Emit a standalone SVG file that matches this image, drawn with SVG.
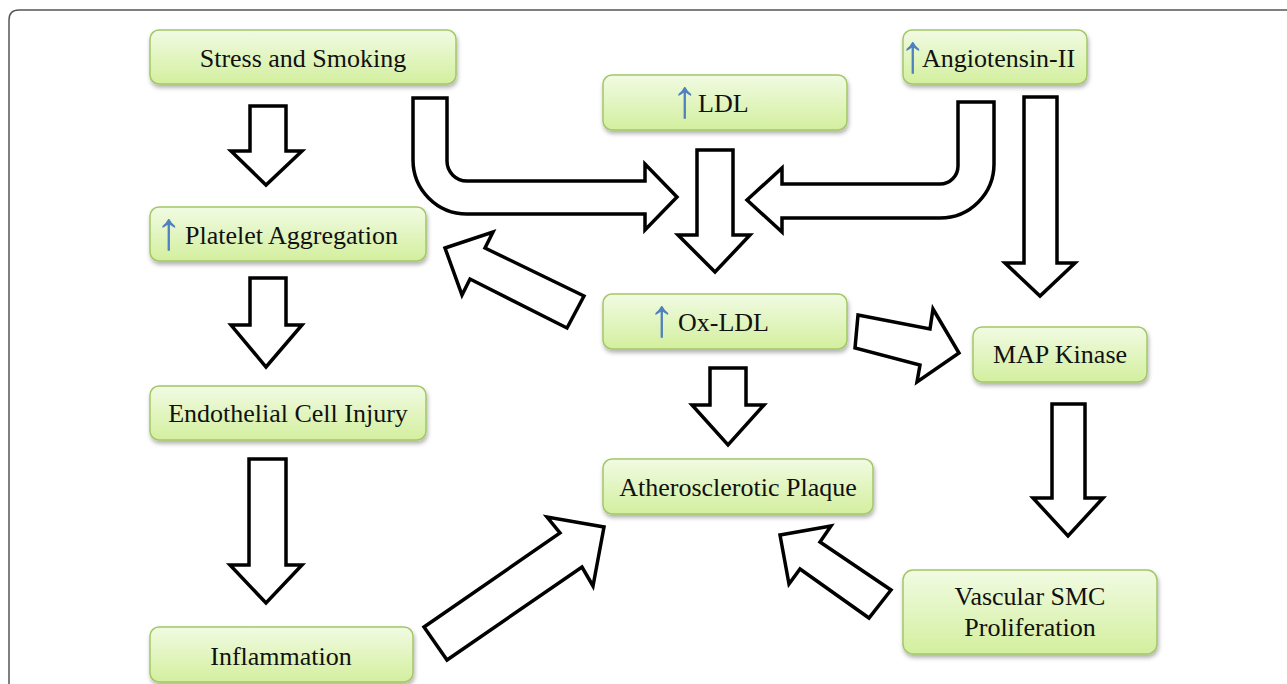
<svg xmlns="http://www.w3.org/2000/svg" width="1287" height="684" viewBox="0 0 1287 684">
<defs>
<linearGradient id="g" x1="0" y1="0" x2="0" y2="1">
<stop offset="0" stop-color="#f1fbe3"/>
<stop offset="1" stop-color="#d3ef9e"/>
</linearGradient>
<filter id="sh" x="-10%" y="-10%" width="120%" height="140%">
<feDropShadow dx="1" dy="3" stdDeviation="2" flood-color="#000" flood-opacity="0.3"/>
</filter>
</defs>
<style>
.box{fill:url(#g);stroke:#a3c766;stroke-width:1.5;filter:url(#sh)}
.t{font-family:"Liberation Serif","Times New Roman",serif;font-size:26px;fill:#111;text-anchor:middle}
.s{text-anchor:start}
.up{fill:#4f81bd;font-family:"Liberation Serif",serif;font-size:54px;text-anchor:middle}
.ar{fill:#fff;stroke:#000;stroke-width:3.5;stroke-linejoin:miter}
</style>
<rect width="1287" height="684" fill="#fff"/>
<path d="M9,684 V20 Q9,10 19,10 H1287" fill="none" stroke="#555" stroke-width="1.5"/>

<g id="connectors">
<path class="ar" d="M250,106 H286 V151 H302 L266,185 L231,151 H250 Z"/>
<path class="ar" d="M250,278 H286 V325 H302 L266,367 L231,325 H250 Z"/>
<path class="ar" d="M249,459 H286 V565 H302 L266,603 L230,565 H249 Z"/>
<path class="ar" d="M697,150 H733 V235 H750 L715,272 L678,235 H697 Z"/>
<path class="ar" d="M710,368 H746 V405 H764 L728,445 L692,405 H710 Z"/>
<path class="ar" d="M1024,97 H1057 V263 H1075 L1040,296 L1005,263 H1024 Z"/>
<path class="ar" d="M1052,404 H1085 V498 H1103 L1068,536 L1033,498 H1052 Z"/>
<path class="ar" d="M413,98 H447 V161 A20,20 0 0 0 467,181 H645 V164 L677,197 L645,230 V214 H467 A54,54 0 0 1 413,160 Z"/>
<path class="ar" d="M958,102 H994 V164 A54,54 0 0 1 940,218 H782 V232 L747,200 L782,168 V184 H940 A18,18 0 0 0 958,166 Z"/>
<polygon class="ar" points="445,248 493,232 485,248 584,296 567,328 470,279 462,295"/>
<polygon class="ar" points="858,315 930,329 933,309 959,353 917,382 920,365 855,348"/>
<polygon class="ar" points="424,627 560,533 547,517 604,527 593,586 582,567 447,660"/>
<polygon class="ar" points="780,535 831,526 820,542 891,590 869,618 800,569 789,584"/>
</g>

<g id="n-stress"><rect class="box" x="150" y="30" width="306" height="54" rx="9"/><text class="t" x="303" y="67">Stress and Smoking</text></g>
<g id="n-ldl"><rect class="box" x="603" y="75" width="244" height="55" rx="9"/><text class="t s"><tspan class="up" x="685" y="117">↑</tspan><tspan x="698" y="112">LDL</tspan></text></g>
<g id="n-ang"><rect class="box" x="903" y="30" width="184" height="54" rx="9"/><text class="t s"><tspan class="up" x="913" y="72">↑</tspan><tspan x="922" y="67">Angiotensin-II</tspan></text></g>
<g id="n-plat"><rect class="box" x="150" y="207" width="276" height="54" rx="9"/><text class="t s"><tspan class="up" x="169" y="249">↑</tspan><tspan x="185" y="244">Platelet Aggregation</tspan></text></g>
<g id="n-oxldl"><rect class="box" x="603" y="294" width="244" height="55" rx="9"/><text class="t s"><tspan class="up" x="662" y="336">↑</tspan><tspan x="678" y="331">Ox-LDL</tspan></text></g>
<g id="n-map"><rect class="box" x="973" y="327" width="174" height="55" rx="9"/><text class="t" x="1060" y="363">MAP Kinase</text></g>
<g id="n-endo"><rect class="box" x="150" y="386" width="276" height="54" rx="9"/><text class="t" x="288" y="422">Endothelial Cell Injury</text></g>
<g id="n-plaque"><rect class="box" x="603" y="459" width="270" height="55" rx="9"/><text class="t" x="738" y="496">Atherosclerotic Plaque</text></g>
<g id="n-smc"><rect class="box" x="903" y="570" width="254" height="84" rx="10"/><text class="t" x="1030" y="605">Vascular SMC</text><text class="t" x="1030" y="636">Proliferation</text></g>
<g id="n-infl"><rect class="box" x="150" y="627" width="263" height="55" rx="9"/><text class="t" x="281" y="665">Inflammation</text></g>
</svg>
